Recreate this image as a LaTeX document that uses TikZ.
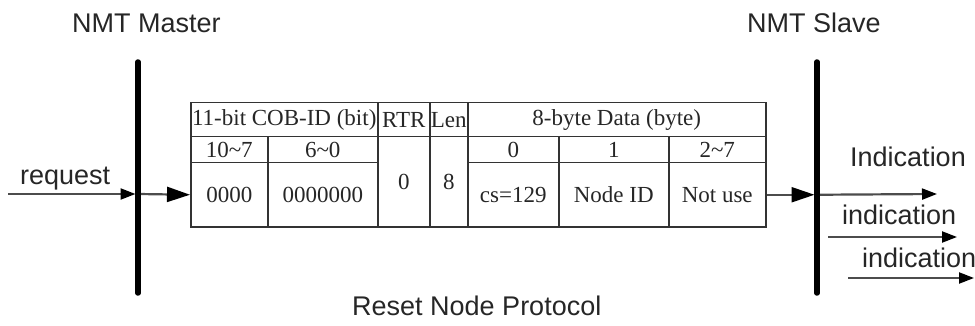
\documentclass[tikz,border=0pt]{standalone}
\usepackage{fontspec}
\setmainfont{Liberation Serif}
\newfontfamily\labelfont{Liberation Sans}
\usetikzlibrary{arrows.meta}

\begin{document}
\begin{tikzpicture}[x=1pt,y=-1pt,
    cell/.style={draw=black!80,line width=1.5pt,inner sep=0pt,anchor=north west,
                 font=\fontsize{23}{25}\selectfont,text=black!85},
    lbl/.style={font=\labelfont\fontsize{27}{30}\selectfont,text=black!85,inner sep=0pt,anchor=base west},
    bar/.style={line width=5.5pt,line cap=round},
    msg/.style={draw=black!70,line width=2.2pt,-{Triangle[length=15pt,width=11pt,color=black]}},
    bigmsg/.style={msg,-{Triangle[length=23pt,width=15pt,color=black]}}]
  \useasboundingbox (0,0) rectangle (975,326);

  % titles
  \node[lbl] (master) at (72,33) {NMT Master};
  \node[lbl] (slave) at (747,33) {NMT Slave};
  \node[lbl] (title) at (352,315) {Reset Node Protocol};

  % frame: header row
  \node[cell,minimum width=187pt,minimum height=34pt] (cob) at (190,102) {11-bit COB-ID (bit)};
  \node[cell,minimum width=52pt,minimum height=34pt] (rtr) at (377,102) {RTR};
  \node[cell,minimum width=38pt,minimum height=34pt] (len) at (429,102) {Len};
  \node[cell,minimum width=298pt,minimum height=34pt] (data) at (467,102) {8-byte Data (byte)};
  % bit / byte numbers
  \node[cell,minimum width=77pt,minimum height=26pt] (bhi) at (190,136) {10\textasciitilde7};
  \node[cell,minimum width=110pt,minimum height=26pt] (blo) at (267,136) {6\textasciitilde0};
  \node[cell,minimum width=52pt,minimum height=90pt] (rtrv) at (377,136) {0};
  \node[cell,minimum width=38pt,minimum height=90pt] (lenv) at (429,136) {8};
  \node[cell,minimum width=91pt,minimum height=26pt] (byte0) at (467,136) {0};
  \node[cell,minimum width=110pt,minimum height=26pt] (byte1) at (558,136) {1};
  \node[cell,minimum width=97pt,minimum height=26pt] (byterest) at (668,136) {2\textasciitilde7};
  % values
  \node[cell,minimum width=77pt,minimum height=64pt] (idhi) at (190,162) {0000};
  \node[cell,minimum width=110pt,minimum height=64pt] (idlo) at (267,162) {0000000};
  \node[cell,minimum width=91pt,minimum height=64pt] (cs) at (467,162) {cs=129};
  \node[cell,minimum width=110pt,minimum height=64pt] (nodeid) at (558,162) {Node ID};
  \node[cell,minimum width=97pt,minimum height=64pt] (notuse) at (668,162) {Not use};

  % master and slave lines
  \coordinate (mtop) at (138,62);
  \coordinate (mbot) at (138,293);
  \coordinate (stop) at (817,62);
  \coordinate (sbot) at (817,293);

  % messages
  \coordinate (req) at (8,194);
  \draw[msg,shorten >=2.5pt] (req) -- (req -| mtop);
  \node[lbl] (reqtext) at (20,185) {request};
  \draw[bigmsg] (req -| mtop) -- (idhi.west);
  \draw[bigmsg,shorten >=2.5pt] (notuse.east) -- (notuse.east -| stop);

  \coordinate (ind1) at (937,194);
  \coordinate (ind2a) at (828,237);
  \coordinate (ind2b) at (957,237);
  \coordinate (ind3a) at (848,278);
  \coordinate (ind3b) at (974,278);
  \draw[msg] (notuse.east -| stop) -- (ind1);
  \draw[msg] (ind2a) -- (ind2b);
  \draw[msg] (ind3a) -- (ind3b);
  \node[lbl] (indtext1) at (850,167) {Indication};
  \node[lbl] (indtext2) at (842,225) {indication};
  \node[lbl] (indtext3) at (862,267) {indication};

  \draw[bar] (mtop) -- (mbot);
  \draw[bar] (stop) -- (sbot);
\end{tikzpicture}
\end{document}
